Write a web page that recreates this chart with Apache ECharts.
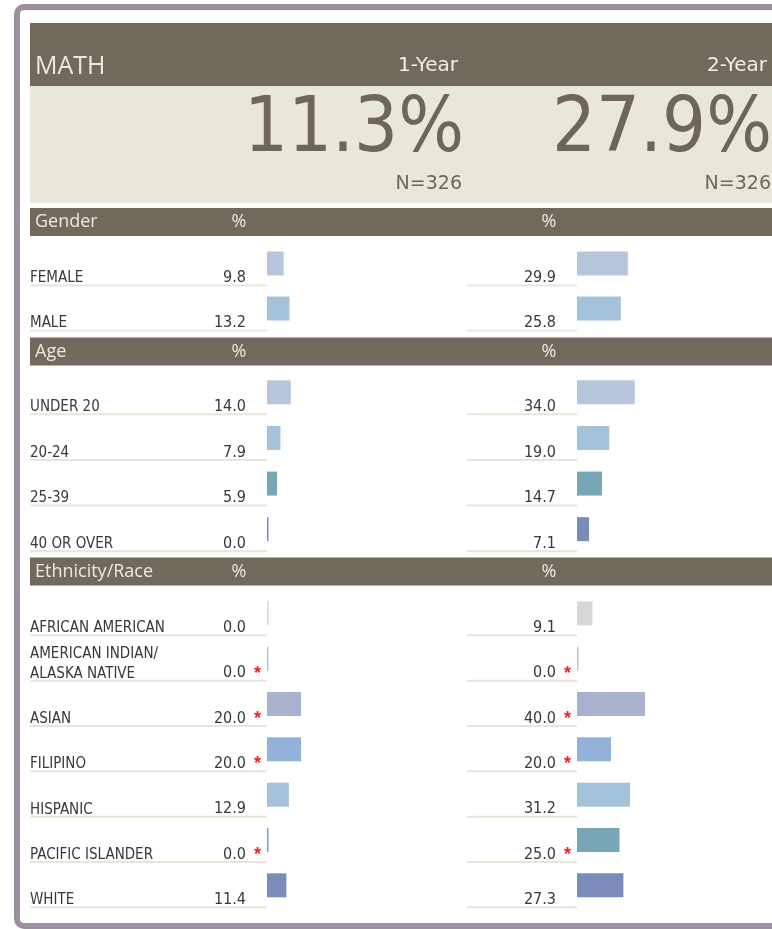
<!DOCTYPE html>
<html><head><meta charset="utf-8">
<script src="https://cdn.jsdelivr.net/npm/echarts@6/dist/echarts.min.js"></script>
<style>html,body{margin:0;padding:0;background:#fff}#c{width:772px;height:929px}</style>
</head><body><div id="c"></div>
<script>
// ---------------- data ----------------
const subject = 'MATH';
const periods = ['1-Year', '2-Year'];
const overallRates = [11.3, 27.9];
const nCounts = [326, 326];
const sectionTitles = ['Gender', 'Age', 'Ethnicity/Race'];
const pctHeader = '%';

const genderCats = ['FEMALE', 'MALE'];
const gender1Year = [9.8, 13.2];
const gender2Year = [29.9, 25.8];
const gender1Flag = [false, false];
const gender2Flag = [false, false];

const ageCats = ['UNDER 20', '20-24', '25-39', '40 OR OVER'];
const age1Year = [14.0, 7.9, 5.9, 0.0];
const age2Year = [34.0, 19.0, 14.7, 7.1];
const age1Flag = [false, false, false, false];
const age2Flag = [false, false, false, false];

const ethCats = ['AFRICAN AMERICAN', 'AMERICAN INDIAN/\nALASKA NATIVE', 'ASIAN', 'FILIPINO', 'HISPANIC', 'PACIFIC ISLANDER', 'WHITE'];
const eth1Year = [0.0, 0.0, 20.0, 20.0, 12.9, 0.0, 11.4];
const eth2Year = [9.1, 0.0, 40.0, 20.0, 31.2, 25.0, 27.3];
const eth1Flag = [false, true, true, true, false, true, false];
const eth2Flag = [false, true, true, true, false, true, false];

// ---------------- style ----------------
const genderColors = ['#b7c6dd', '#a5c2db'];
const ageColors = ['#b7c6dd', '#a5c2db', '#77a6b7', '#7b8cbb'];
const ethColors = ['#d7d7d7', '#b7c6dd', '#a9b3cf', '#93b2d9', '#a5c2db', '#77a6b7', '#7b8cba'];

const DARK = '#716a5c', LIGHT_PANEL = '#e9e7dc', HEAD_TXT = '#ece9df', BIG_TXT = '#6e6659';
const NARROW = "'Liberation Sans Narrow','DejaVu Sans Condensed','Arial Narrow',sans-serif";

const sections = [
  {title: sectionTitles[0], cats: genderCats, v: [gender1Year, gender2Year], f: [gender1Flag, gender2Flag], colors: genderColors},
  {title: sectionTitles[1], cats: ageCats, v: [age1Year, age2Year], f: [age1Flag, age2Flag], colors: ageColors},
  {title: sectionTitles[2], cats: ethCats, v: [eth1Year, eth2Year], f: [eth1Flag, eth2Flag], colors: ethColors}
];

// layout
const colLeft = [267, 577];
const barAreaW = 170;
const gridTops = [241, 369.5, 590.7];
const gridBottoms = [331, 552, 908];
const bandTops = [208, 337.5, 557.5];
const bandH = 28;
const pctX = [239, 549];

function txt(extra) {
  return Object.assign({fontFamily: NARROW, fontSize: 15, color: '#383838', lineHeight: 44, height: 12, verticalAlign: 'bottom'}, extra);
}
function richFor(col) {
  const nameW = 176, valW = col === 0 ? 40 : 89, lineW = col === 0 ? 237 : 110;
  const star = {fontFamily: "'Liberation Sans',sans-serif", fontSize: 18, fontWeight: 'bold', color: '#e3262b', align: 'right', width: 14, height: 12, padding: [0, 6, 0, 1]};
  return {
    n: txt({align: 'left', width: nameW}),
    v: txt({align: 'right', width: valW, fontSize: 16, height: 13}),
    s: txt(Object.assign({}, star)),
    n1: txt({align: 'left', lineHeight: 24}),
    n2: txt({align: 'left', width: nameW, lineHeight: 20}),
    v2: txt({align: 'right', width: valW, fontSize: 16, height: 13, lineHeight: 20}),
    s2: txt(Object.assign({}, star, {lineHeight: 20})),
    u: {align: 'left', width: lineW, height: 2, lineHeight: 2, backgroundColor: '#e9e5d9'}
  };
}
function labelFormatter(sec, col) {
  return function (value, idx) {
    const v = sec.v[col][idx].toFixed(1);
    const st = sec.f[col][idx] ? '*' : '';
    if (col === 1) return '{v|' + v + '}{s|' + st + '}\n{u|}';
    const parts = String(value).split('\n');
    if (parts.length > 1) {
      return '{n1|' + parts[0] + '}\n{n2|' + parts[1] + '}{v2|' + v + '}{s2|' + st + '}\n{u|}';
    }
    return '{n|' + value + '}{v|' + v + '}{s|' + st + '}\n{u|}';
  };
}

const grids = [], xAxes = [], yAxes = [], series = [];
sections.forEach(function (sec, si) {
  [0, 1].forEach(function (col) {
    const k = grids.length;
    grids.push({left: colLeft[col], top: gridTops[si], width: barAreaW, height: gridBottoms[si] - gridTops[si], outerBoundsMode: 'none', containLabel: false});
    xAxes.push({gridIndex: k, type: 'value', min: 0, max: 100, show: false});
    yAxes.push({
      gridIndex: k, type: 'category', inverse: true, data: sec.cats,
      axisLine: {show: false}, axisTick: {show: false}, splitLine: {show: false},
      axisLabel: {interval: 0, margin: 0, hideOverlap: false, formatter: labelFormatter(sec, col), rich: richFor(col)}
    });
    series.push({
      type: 'bar', xAxisIndex: k, yAxisIndex: k, barWidth: 24, barMinHeight: 1.5,
      silent: true, animation: false,
      data: sec.v[col].map(function (val, i) { return {value: val, itemStyle: {color: sec.colors[i]}}; })
    });
  });
});

// decorations and header texts
const g = [];
g.push({type: 'rect', z: 0, shape: {x: 17, y: 7, width: 820, height: 919, r: 7}, style: {fill: 'none', stroke: '#9d8fa2', lineWidth: 6}});
g.push({type: 'rect', z: 0, shape: {x: 30, y: 23, width: 760, height: 63}, style: {fill: DARK}});
g.push({type: 'rect', z: 0, shape: {x: 30, y: 86, width: 760, height: 117}, style: {fill: LIGHT_PANEL}});
g.push({type: 'text', z: 1, x: 35, y: 67, style: {text: subject, fill: HEAD_TXT, fontFamily: "'Open Sans',sans-serif", fontSize: 25, align: 'left', verticalAlign: 'middle', textAlign: 'left', textVerticalAlign: 'middle'}});
const periodRight = [458, 767];
const bigRight = [464, 772];
const nRight = [462, 771];
periods.forEach(function (p, i) {
  g.push({type: 'text', z: 1, x: periodRight[i], y: 66, style: {text: p, fill: '#f0eee6', fontFamily: "'DejaVu Sans',sans-serif", fontSize: 20, align: 'right', verticalAlign: 'middle', textAlign: 'right', textVerticalAlign: 'middle'}});
  g.push({type: 'text', z: 1, x: bigRight[i], y: 131, style: {text: overallRates[i].toFixed(1) + '%', fill: BIG_TXT, fontFamily: "'DejaVu Sans Condensed','DejaVu Sans',sans-serif", fontSize: 77, align: 'right', verticalAlign: 'middle', textAlign: 'right', textVerticalAlign: 'middle'}});
  g.push({type: 'text', z: 1, x: nRight[i], y: 184, style: {text: 'N=' + nCounts[i], fill: BIG_TXT, fontFamily: "'DejaVu Sans',sans-serif", fontSize: 19, align: 'right', verticalAlign: 'middle', textAlign: 'right', textVerticalAlign: 'middle'}});
});
sections.forEach(function (sec, si) {
  g.push({type: 'rect', z: 0, shape: {x: 30, y: bandTops[si], width: 760, height: bandH}, style: {fill: DARK}});
  g.push({type: 'text', z: 1, x: 35, y: bandTops[si] + bandH / 2, style: {text: sec.title, fill: HEAD_TXT, fontFamily: "'Open Sans',sans-serif", fontSize: 18, align: 'left', verticalAlign: 'middle', textAlign: 'left', textVerticalAlign: 'middle'}});
  [0, 1].forEach(function (col) {
    g.push({type: 'text', z: 1, x: pctX[col], y: bandTops[si] + bandH / 2, style: {text: pctHeader, fill: HEAD_TXT, fontFamily: "'Open Sans',sans-serif", fontSize: 18, align: 'center', verticalAlign: 'middle', textAlign: 'center', textVerticalAlign: 'middle'}});
  });
});

const chart = echarts.init(document.getElementById('c'), null, {renderer: 'canvas'});
chart.setOption({
  animation: false,
  backgroundColor: '#ffffff',
  grid: grids, xAxis: xAxes, yAxis: yAxes, series: series,
  graphic: {elements: g}
});
</script></body></html>
